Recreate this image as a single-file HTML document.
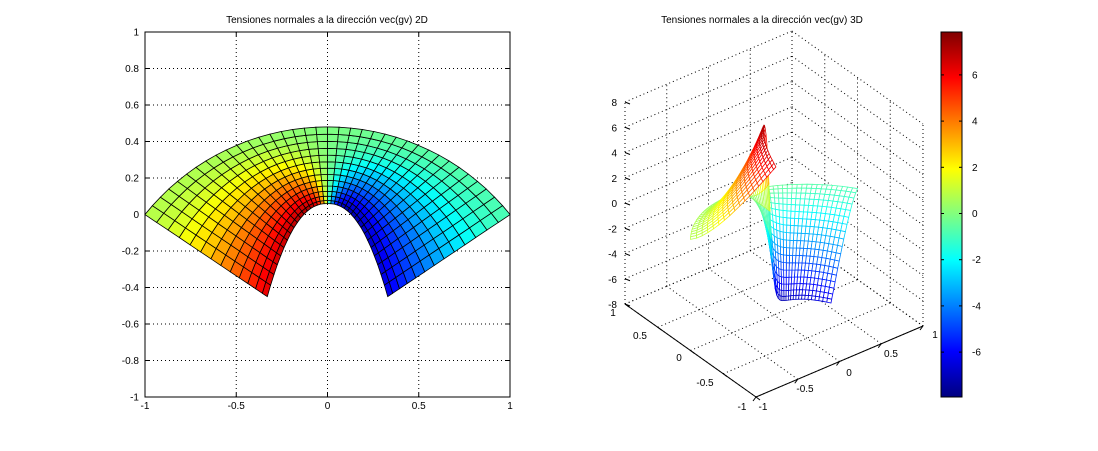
<!DOCTYPE html>
<html><head><meta charset="utf-8">
<style>
html,body{margin:0;padding:0;background:#fff;}
svg text{font-family:"Liberation Sans",sans-serif;font-size:10px;fill:#000;}
</style></head>
<body>
<svg id="s" width="1098" height="446" xmlns="http://www.w3.org/2000/svg">
<rect width="1098" height="446" fill="#fff"/>
<text x="327" y="23" text-anchor="middle">Tensiones normales a la dirección vec(gv) 2D</text>
<text x="762" y="23" text-anchor="middle">Tensiones normales a la dirección vec(gv) 3D</text>
</svg>
<script>
const S=document.getElementById('s');
const NS='http://www.w3.org/2000/svg';
function el(t,a,txt){const e=document.createElementNS(NS,t);for(const k in a)e.setAttribute(k,a[k]);if(txt!==undefined)e.textContent=txt;S.appendChild(e);return e;}
function jet(v,lo,hi){let x=(v-lo)/(hi-lo);x=Math.max(0,Math.min(1,x));
 const f=c=>Math.max(0,Math.min(1,1.5-Math.abs(4*x-c)));
 return 'rgb('+Math.round(255*f(3))+','+Math.round(255*f(2))+','+Math.round(255*f(1))+')';}
const D=Math.PI/180;
function pt(t,u){
 const xi=0.33*t, yi=0.06-0.51*Math.pow(Math.abs(t),2.3);
 const to=Math.PI/2-t*51.3*D;
 const xo=1.2817*Math.cos(to), yo=-0.8017+1.2817*Math.sin(to);
 return [xi+(xo-xi)*u, yi+(yo-yi)*u];}
function val(t,u){const a=0.8+7.1*Math.pow(1-u,1.6);const k=7*(1-u)+1.2*u;
 return -a*Math.tanh(t*k)/Math.tanh(k)*(1-0.2*Math.abs(t)*(1-u));}
function mesh(N,M){const P=[];for(let i=0;i<=N;i++){P.push([]);for(let j=0;j<=M;j++){const t=-1+2*i/N,u=Math.pow(j/M,1.25);const p=pt(t,u);P[i].push([p[0],p[1],val(t,u)]);}}return P;}
// ---------- Left 2D ----------
const X0=145,X1=510,Y0=32,Y1=397;
const lx=x=>327.5+x*182.5, ly=y=>214.5-y*182.5;
for(let k=-2;k<=2;k++){const x=lx(k*0.5);
 if(k>-2&&k<2) el('line',{x1:x,y1:Y0,x2:x,y2:Y1,stroke:'#000','stroke-dasharray':'1,3','stroke-width':1});
 el('line',{x1:x,y1:Y1,x2:x,y2:Y1-4,stroke:'#000'});el('line',{x1:x,y1:Y0,x2:x,y2:Y0+4,stroke:'#000'});
 el('text',{x:x,y:409,'text-anchor':'middle'},String(k*0.5));}
for(let k=-5;k<=5;k++){const y=ly(k*0.2);
 if(k>-5&&k<5) el('line',{x1:X0,y1:y,x2:X1,y2:y,stroke:'#000','stroke-dasharray':'1,3'});
 el('line',{x1:X0,y1:y,x2:X0+4,y2:y,stroke:'#000'});el('line',{x1:X1,y1:y,x2:X1-4,y2:y,stroke:'#000'});
 el('text',{x:139,y:y+3.5,'text-anchor':'end'},String(Math.round(k*2)/10));}
el('rect',{x:X0,y:Y0,width:X1-X0,height:Y1-Y0,fill:'none',stroke:'#000'});
{const N=36,M=13,P=mesh(N,M);
for(let i=0;i<N;i++)for(let j=0;j<M;j++){
 const q=[P[i][j],P[i+1][j],P[i+1][j+1],P[i][j+1]];
 const v=(q[0][2]+q[1][2]+q[2][2]+q[3][2])/4;
 el('polygon',{points:q.map(p=>lx(p[0]).toFixed(1)+','+ly(p[1]).toFixed(1)).join(' '),fill:jet(v,-7.9,7.9),stroke:'#000','stroke-width':0.8});}}
// ---------- Right 3D ----------
function pr(x,y,z){return [756+(x+1)*83.5-(y+1)*65.5, 397-(x+1)*35.5-(y+1)*46.5-(z+8)*12.625];}
function ln(a,b,dash){const o={x1:a[0],y1:a[1],x2:b[0],y2:b[1],stroke:'#000','stroke-width':1};if(dash)o['stroke-dasharray']='1,3';el('line',o);}
for(let k=-2;k<=2;k++){const v=k*0.5;
 ln(pr(v,-1,-8),pr(v,1,-8),true); ln(pr(-1,v,-8),pr(1,v,-8),true);
 ln(pr(v,1,-8),pr(v,1,8),true); ln(pr(1,v,-8),pr(1,v,8),true);}
for(let z=-8;z<=8;z+=2){ln(pr(-1,1,z),pr(1,1,z),true);ln(pr(1,1,z),pr(1,-1,z),true);}
ln(pr(-1,-1,-8),pr(1,-1,-8));ln(pr(-1,-1,-8),pr(-1,1,-8));ln(pr(-1,1,-8),pr(-1,1,8),true);
for(let k=-2;k<=2;k++){const v=k*0.5;
 let a=pr(v,-1,-8);ln(a,[a[0]-3,a[1]+4]);
 a=pr(-1,v,-8);ln(a,[a[0]+4,a[1]+3]);}
for(let z=-8;z<=8;z+=2){const a=pr(-1,1,z);ln(a,[a[0]+5,a[1]+2]);
 el('text',{x:617,y:a[1]+4,'text-anchor':'end'},String(z));}
[['1',613,316],['0.5',640,339],['0',679,361],['-0.5',705,386],['-1',742,410]].forEach(a=>el('text',{x:a[1],y:a[2],'text-anchor':'middle'},a[0]));
[['-1',763,410],['-0.5',805,392],['0',849,376],['0.5',891,357],['1',935,338]].forEach(a=>el('text',{x:a[1],y:a[2],'text-anchor':'middle'},a[0]));
{const N=48,M=18,P=mesh(N,M);const Q=[];
for(let i=0;i<N;i++)for(let j=0;j<M;j++){
 const q=[P[i][j],P[i+1][j],P[i+1][j+1],P[i][j+1]];
 let x=0,y=0,z=0;q.forEach(p=>{x+=p[0]/4;y+=p[1]/4;z+=p[2]/4;});
 Q.push({q,z,d:0.866*(0.79*x+0.61*y)-0.5*z/8});}
Q.sort((a,b)=>b.d-a.d);
Q.forEach(o=>{el('polygon',{points:o.q.map(p=>{const s=pr(p[0],p[1],p[2]);return s[0].toFixed(1)+','+s[1].toFixed(1);}).join(' '),fill:'#fff',stroke:jet(o.z,-7.9,7.9),'stroke-width':0.8});});}
// colorbar
const defs=el('defs',{});
const g=document.createElementNS(NS,'linearGradient');g.setAttribute('id','jg');g.setAttribute('x1','0');g.setAttribute('y1','1');g.setAttribute('x2','0');g.setAttribute('y2','0');
for(let k=0;k<=16;k++){const st=document.createElementNS(NS,'stop');st.setAttribute('offset',k/16);st.setAttribute('stop-color',jet(k/16,0,1));g.appendChild(st);}
defs.appendChild(g);
el('rect',{x:941,y:32,width:21,height:365,fill:'url(#jg)',stroke:'#000'});
for(let v=-6;v<=6;v+=2){const y=213.5-v*23.1;
 el('line',{x1:941,y1:y,x2:944,y2:y,stroke:'#000'});el('line',{x1:962,y1:y,x2:959,y2:y,stroke:'#000'});
 el('text',{x:972,y:y+3.5},String(v));}
</script>
</body></html>
